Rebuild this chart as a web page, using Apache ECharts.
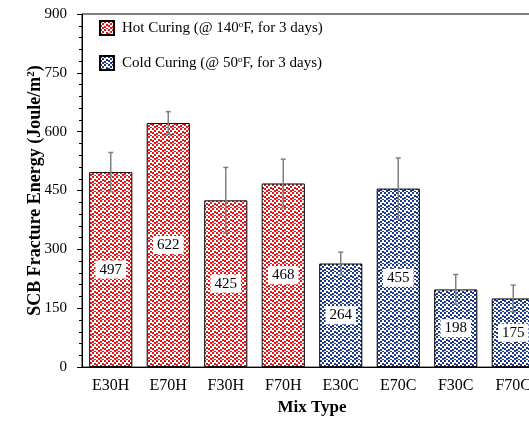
<!DOCTYPE html>
<html>
<head>
<meta charset="utf-8">
<script src="https://cdn.jsdelivr.net/npm/echarts@6/dist/echarts.min.js"></script>
<style>
html,body{margin:0;padding:0;background:#fff;overflow:hidden;width:529px;height:421px;}
#chart{width:570px;height:421px;}
</style>
</head>
<body>
<div id="chart"></div>
<script>
const categories = ['E30H','E70H','F30H','F70H','E30C','E70C','F30C','F70C'];
const hotValues  = [497, 622, 425, 468, '-', '-', '-', '-'];
const coldValues = ['-', '-', '-', '-', 264, 455, 198, 175];
const allValues  = [497, 622, 425, 468, 264, 455, 198, 175];
const errors     = [50, 29, 84, 62, 29, 78, 38, 34];
const hotName  = 'Hot Curing (@ 140{sup|o}F, for 3 days)';
const coldName = 'Cold Curing (@ 50{sup|o}F, for 3 days)';

function makePattern(color) {
  const c = document.createElement('canvas');
  c.width = 8; c.height = 8;
  const ctx = c.getContext('2d');
  ctx.fillStyle = '#fff';
  ctx.fillRect(0, 0, 8, 8);
  ctx.fillStyle = color;
  const blocks = [[0,0],[4,0],[2,2],[6,3],[0,4],[4,5],[2,6],[6,7]];
  blocks.forEach(b => ctx.fillRect(b[0], b[1], 2, 2));
  return c;
}
const redPat  = { image: makePattern('#e3191c'), repeat: 'repeat' };
const bluePat = { image: makePattern('#1d3a8a'), repeat: 'repeat' };

const font = '"Liberation Serif", "Times New Roman", serif';
const errData = allValues.map((v, i) => [i, v - errors[i], v + errors[i]]);

const chart = echarts.init(document.getElementById('chart'));
const labelCfg = {
  show: true, position: 'inside', backgroundColor: '#fff',
  padding: [2, 4, 1, 4], color: '#000', fontSize: 15, fontFamily: font
};
chart.setOption({
  animation: false,
  textStyle: { fontFamily: font },
  grid: { left: 82, top: 14, width: 460, bottom: 50, show: true, borderColor: '#000', borderWidth: 1 },
  legend: {
    orient: 'vertical', left: 94, top: 15, itemWidth: 14, itemHeight: 14, itemGap: 19,
    icon: 'rect',
    textStyle: {
      fontFamily: font, fontSize: 15, color: '#000', padding: [0, 0, 0, 3],
      rich: { sup: { fontSize: 9, verticalAlign: 'top', fontFamily: font, color: '#000' } }
    },
    data: [hotName, coldName]
  },
  xAxis: [{
    type: 'category', data: categories,
    axisLine: { lineStyle: { color: '#000' } },
    axisTick: { length: 5, lineStyle: { color: '#000' } },
    axisLabel: { color: '#000', fontSize: 16, fontFamily: font, margin: 11 },
    name: 'Mix Type', nameLocation: 'middle', nameGap: 30,
    nameTextStyle: { fontFamily: font, fontSize: 17, fontWeight: 'bold', color: '#000' }
  }, {
    type: 'category', data: categories, position: 'bottom',
    axisLine: { show: false },
    axisTick: { alignWithLabel: true, length: 5, lineStyle: { color: '#000' } },
    axisLabel: { show: false }
  }],
  yAxis: {
    type: 'value', min: 0, max: 900, interval: 150,
    axisLine: { show: true, lineStyle: { color: '#000' } },
    axisTick: { show: true, length: 5, lineStyle: { color: '#000' } },
    minorTick: { show: true, splitNumber: 5, length: 3, lineStyle: { color: '#000' } },
    splitLine: { show: false },
    axisLabel: { color: '#000', fontSize: 15, fontFamily: font, margin: 15 },
    name: 'SCB Fracture Energy (Joule/m{sup|2})', nameLocation: 'middle', nameGap: 38,
    nameMoveOverlap: false,
    nameTextStyle: {
      fontFamily: font, fontSize: 18, fontWeight: 'bold', color: '#000',
      rich: { sup: { fontSize: 11, fontWeight: 'bold', verticalAlign: 'top', fontFamily: font, color: '#000' } }
    }
  },
  series: [{
    name: hotName, type: 'bar', data: hotValues, barWidth: '75%', barGap: '-100%',
    itemStyle: { color: redPat, borderColor: '#000', borderWidth: 1 },
    label: labelCfg
  }, {
    name: coldName, type: 'bar', data: coldValues, barWidth: '75%', barGap: '-100%',
    itemStyle: { color: bluePat, borderColor: '#000', borderWidth: 1 },
    label: labelCfg
  }, {
    type: 'custom', data: errData, z: 10,
    encode: { x: 0, y: [1, 2] },
    renderItem: function (params, api) {
      const x = api.value(0);
      const lo = api.coord([x, api.value(1)]);
      const hi = api.coord([x, api.value(2)]);
      const style = { stroke: '#808080', lineWidth: 1.5 };
      return {
        type: 'group', children: [
          { type: 'line', shape: { x1: lo[0], y1: lo[1], x2: hi[0], y2: hi[1] }, style: style },
          { type: 'line', shape: { x1: lo[0] - 2.5, y1: lo[1], x2: lo[0] + 2.5, y2: lo[1] }, style: style },
          { type: 'line', shape: { x1: hi[0] - 2.5, y1: hi[1], x2: hi[0] + 2.5, y2: hi[1] }, style: style }
        ]
      };
    }
  }]
});
</script>
</body>
</html>
